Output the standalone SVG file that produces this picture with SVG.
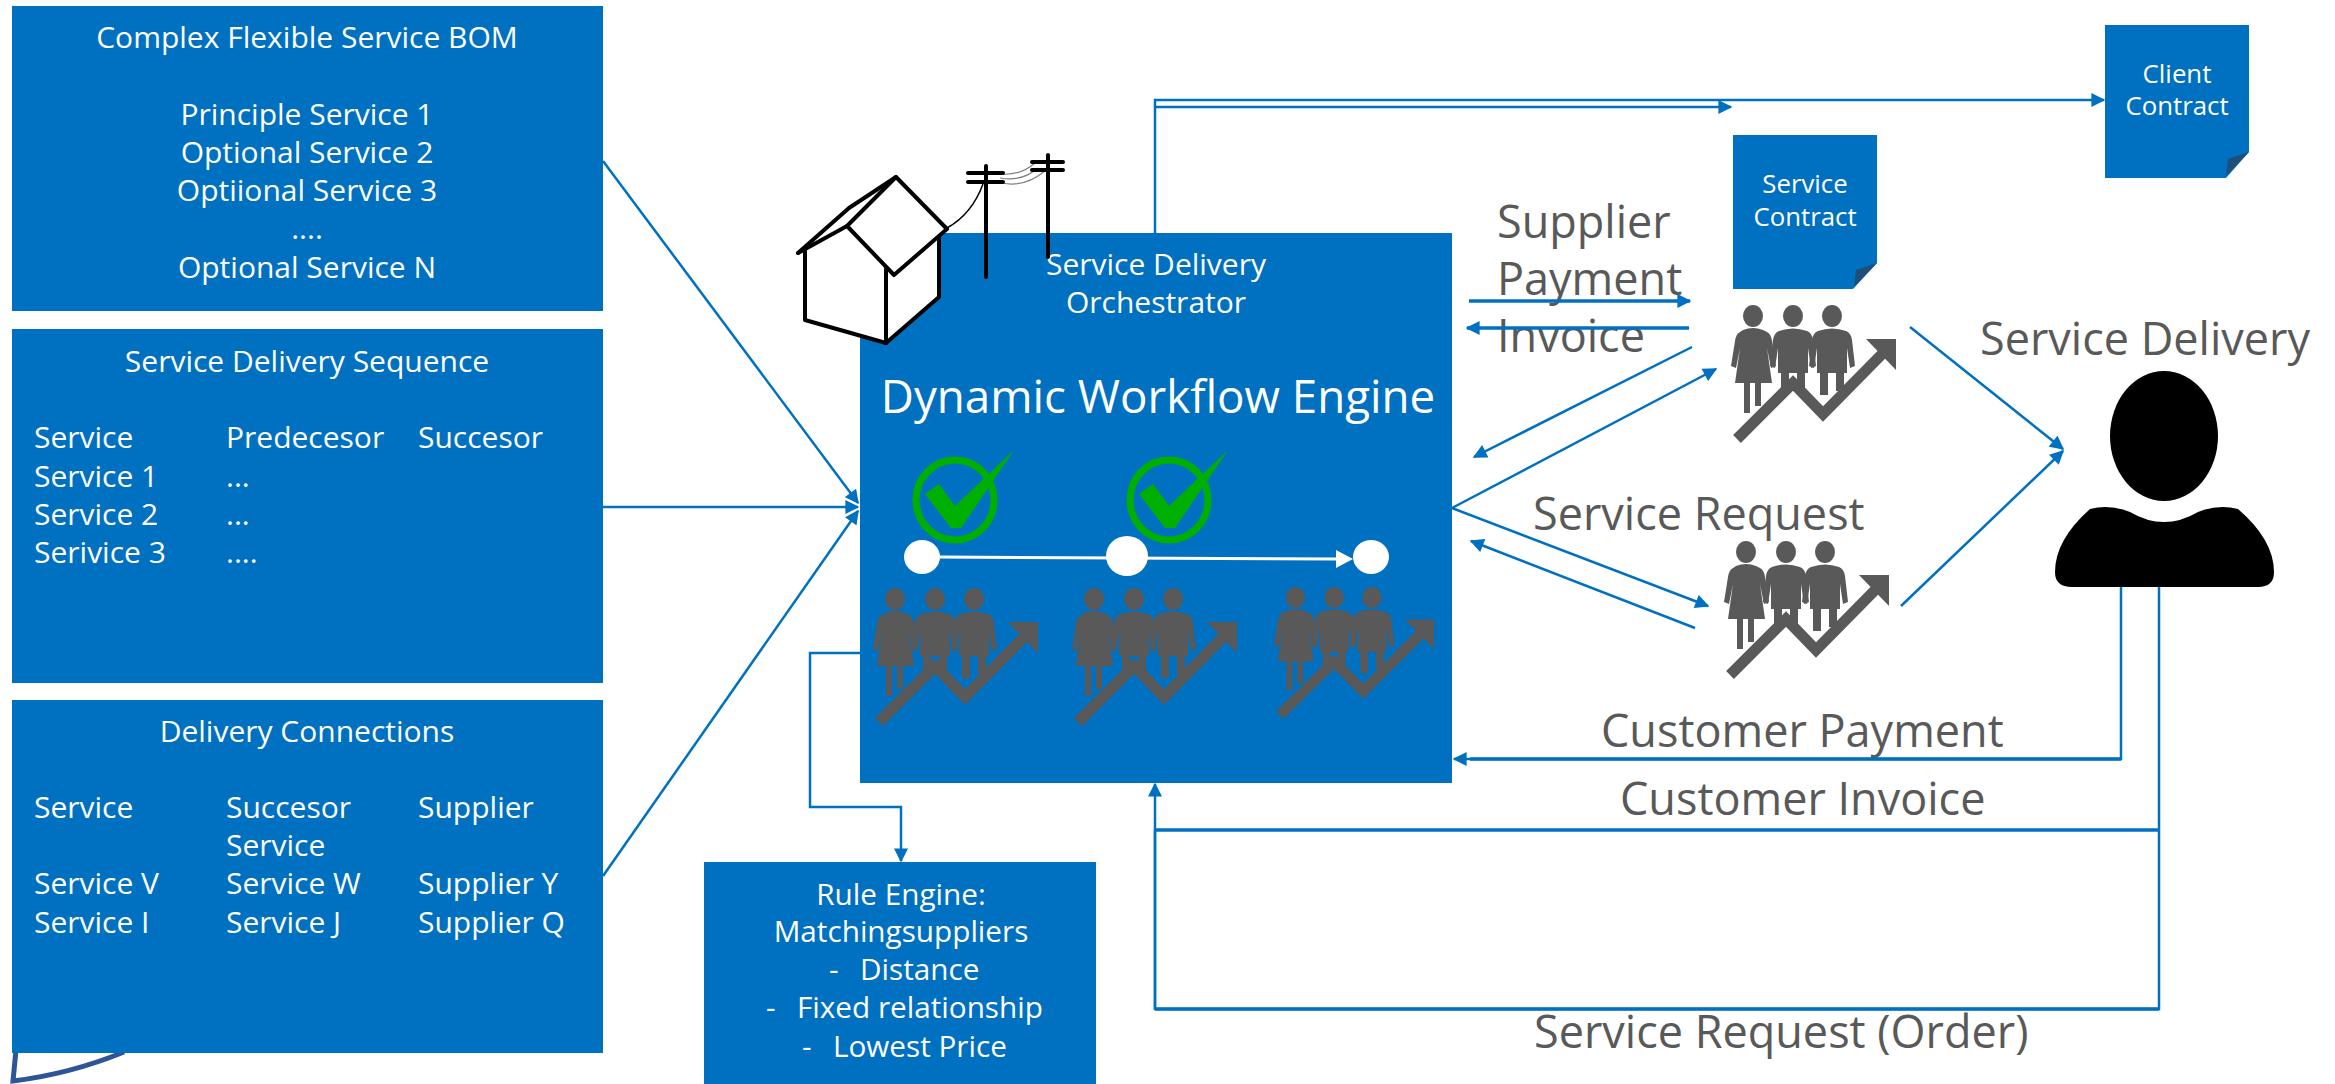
<svg xmlns="http://www.w3.org/2000/svg" xmlns:xlink="http://www.w3.org/1999/xlink" width="2335" height="1084" viewBox="0 0 2335 1084">
  <style>
    .box { fill: #0070C0; }
    .wt { fill: #FFFFFF; font-family: "Open Sans", "Noto Sans", "Liberation Sans", sans-serif; }
    .gt { fill: #595959; font-family: "Open Sans", "Noto Sans", "Liberation Sans", sans-serif; font-size: 45px; }
    .bt { font-size: 30px; }
    .rt { font-size: 29.7px; }
    .mid { text-anchor: middle; }
    .conn { fill: none; stroke: #0070C0; stroke-width: 2.5; }
    .thick { stroke-width: 3.5; }
    .arr { marker-end: url(#ah); }
    .ink { fill: none; stroke: #000000; stroke-width: 4; stroke-linejoin: round; stroke-linecap: round; }
    .ppl { fill: #595959; }
  </style>
  <defs>
    <marker id="ah" viewBox="0 0 10 10" refX="9" refY="5" markerUnits="userSpaceOnUse" markerWidth="15" markerHeight="14" orient="auto">
      <path d="M0,0 L10,5 L0,10 Z" fill="#0070C0"/>
    </marker>
    <!-- three people with a rising zigzag arrow -->
    <g id="team">
      <ellipse cx="21" cy="10" rx="10" ry="11" class="ppl"/>
      <ellipse cx="61" cy="10" rx="10" ry="11" class="ppl"/>
      <ellipse cx="100" cy="10" rx="10" ry="11" class="ppl"/>
      <path class="ppl" d="M11,24 Q21,20 31,24 L35,26 Q39,28 40,35 L44,60 L39,62 L35,42 L40,77 L3,77 L8,42 L4,62 L-1,60 L3,35 Q4,28 8,26 Z"/>
      <rect class="ppl" x="12" y="76" width="6" height="31"/>
      <rect class="ppl" x="23" y="76" width="6" height="24"/>
      <path class="ppl" d="M47,25 Q61,20 75,25 Q80,27 81,34 L84,60 L79,62 L76,42 L76,67 L46,67 L46,42 L43,62 L38,60 L41,34 Q42,27 47,25 Z"/>
      <rect class="ppl" x="49" y="65" width="8" height="22"/>
      <rect class="ppl" x="65" y="65" width="8" height="20"/>
      <path class="ppl" d="M86,25 Q100,20 114,25 Q119,27 120,34 L123,60 L118,62 L115,42 L115,67 L85,67 L85,42 L82,62 L77,60 L80,34 Q81,27 86,25 Z"/>
      <rect class="ppl" x="88" y="65" width="8" height="24"/>
      <rect class="ppl" x="104" y="65" width="8" height="20"/>
      <polyline points="5,133 61,77 91,108 158,40" fill="none" stroke="#595959" stroke-width="11" stroke-linejoin="miter"/>
      <polygon class="ppl" points="134,33 164,33 164,64"/>
    </g>
    <!-- green tick inside a ring -->
    <g id="tick">
      <ellipse cx="0" cy="0" rx="39" ry="40" fill="none" stroke="#00B000" stroke-width="7"/>
      <path d="M-30,-6 L-16,-16 L0,6 L59,-50 L6,28 L-4,28 Z" fill="#00B000"/>
    </g>
  </defs>

  <rect width="2335" height="1084" fill="#FFFFFF"/>

  <!-- logo edge peeking out below the connections table -->
  <path d="M16,1050 L13,1081 Q70,1074 124,1052" fill="none" stroke="#2E5597" stroke-width="5"/>

  <g id="bom">
    <rect class="box" x="12" y="6" width="591" height="305"/>
    <text class="wt bt mid" x="307" y="48">Complex Flexible Service BOM</text>
    <text class="wt bt mid" x="307" y="125">Principle Service 1</text>
    <text class="wt bt mid" x="307" y="163">Optional Service 2</text>
    <text class="wt bt mid" x="307" y="201">Optiional Service 3</text>
    <text class="wt bt mid" x="307" y="239">....</text>
    <text class="wt bt mid" x="307" y="278">Optional Service N</text>
  </g>

  <g id="sequence">
    <rect class="box" x="12" y="329" width="591" height="354"/>
    <text class="wt bt mid" x="307" y="372">Service Delivery Sequence</text>
    <text class="wt bt" x="34" y="448">Service</text>
    <text class="wt bt" x="226" y="448">Predecesor</text>
    <text class="wt bt" x="418" y="448">Succesor</text>
    <text class="wt bt" x="34" y="487">Service 1</text>
    <text class="wt bt" x="226" y="487">...</text>
    <text class="wt bt" x="34" y="525">Service 2</text>
    <text class="wt bt" x="226" y="525">...</text>
    <text class="wt bt" x="34" y="563">Serivice 3</text>
    <text class="wt bt" x="226" y="563">....</text>
  </g>

  <g id="connections">
    <rect class="box" x="12" y="700" width="591" height="353"/>
    <text class="wt bt mid" x="307" y="742">Delivery Connections</text>
    <text class="wt bt" x="34" y="818">Service</text>
    <text class="wt bt" x="226" y="818">Succesor</text>
    <text class="wt bt" x="418" y="818">Supplier</text>
    <text class="wt bt" x="226" y="856">Service</text>
    <text class="wt bt" x="34" y="894">Service V</text>
    <text class="wt bt" x="226" y="894">Service W</text>
    <text class="wt bt" x="418" y="894">Supplier Y</text>
    <text class="wt bt" x="34" y="933">Service I</text>
    <text class="wt bt" x="226" y="933">Service J</text>
    <text class="wt bt" x="418" y="933">Supplier Q</text>
  </g>

  <g id="orchestrator">
    <rect class="box" x="860" y="233" width="592" height="550"/>
    <text class="wt mid" x="1156" y="275" font-size="30">Service Delivery</text>
    <text class="wt mid" x="1156" y="313" font-size="30">Orchestrator</text>
    <text class="wt mid" x="1158" y="413" font-size="45.7">Dynamic Workflow Engine</text>
    <use xlink:href="#tick" transform="translate(955,500)"/>
    <use xlink:href="#tick" transform="translate(1169,500)"/>
    <line x1="940" y1="557" x2="1340" y2="559" stroke="#FFFFFF" stroke-width="3"/>
    <polygon points="1336,550 1353,559 1336,568" fill="#FFFFFF"/>
    <ellipse cx="922" cy="557" rx="18" ry="17" fill="#FFFFFF"/>
    <ellipse cx="1127" cy="556" rx="21" ry="20" fill="#FFFFFF"/>
    <ellipse cx="1371" cy="557" rx="18" ry="17" fill="#FFFFFF"/>
    <use xlink:href="#team" transform="translate(874,589)"/>
    <use xlink:href="#team" transform="translate(1073,589)"/>
    <use xlink:href="#team" transform="translate(1275,588) scale(0.97,0.955)"/>
  </g>

  <!-- house with power line, sitting on the orchestrator corner -->
  <g id="house">
    <polygon points="798,253 849,208 896,177 947,229 939,237 939,297 886,343 805,320 805,250" fill="#FFFFFF"/>
    <polyline class="ink" points="798,253 849,208 896,177"/>
    <line class="ink" x1="798" y1="253" x2="847" y2="226"/>
    <polygon class="ink" points="847,226 896,177 947,229 894,275"/>
    <polyline class="ink" points="805,250 805,320 886,343 939,297 939,237"/>
    <line class="ink" x1="886" y1="268" x2="886" y2="343"/>
    <path d="M983,184 Q972,214 947,228" fill="none" stroke="#000000" stroke-width="1.5"/>
    <path d="M1000,174 Q1020,176 1035,163 M1000,178 Q1022,182 1038,168 M1002,183 Q1024,188 1045,171" fill="none" stroke="#808080" stroke-width="1.2"/>
    <line class="ink" x1="986" y1="166" x2="986" y2="277"/>
    <line class="ink" x1="968" y1="173" x2="1003" y2="173"/>
    <line class="ink" x1="968" y1="182" x2="1003" y2="182"/>
    <line class="ink" x1="1048" y1="155" x2="1048" y2="257"/>
    <line class="ink" x1="1032" y1="162" x2="1063" y2="162"/>
    <line class="ink" x1="1032" y1="170" x2="1063" y2="170"/>
  </g>

  <g id="rule-engine">
    <rect class="box" x="704" y="862" width="392" height="222"/>
    <text class="wt rt mid" x="901" y="905">Rule Engine:</text>
    <text class="wt rt mid" x="901" y="942">Matchingsuppliers</text>
    <text class="wt rt" x="829" y="980">-</text>
    <text class="wt rt" x="860" y="980">Distance</text>
    <text class="wt rt" x="766" y="1018">-</text>
    <text class="wt rt" x="797" y="1018">Fixed relationship</text>
    <text class="wt rt" x="802" y="1057">-</text>
    <text class="wt rt" x="833" y="1057">Lowest Price</text>
  </g>

  <g id="service-contract">
    <polygon class="box" points="1733,135 1877,135 1877,263 1853,289 1733,289"/>
    <polygon points="1856,270 1877,263 1854,287" fill="#1F4E79"/>
    <text class="wt mid" x="1805" y="193" font-size="25.8">Service</text>
    <text class="wt mid" x="1805" y="226" font-size="25.8">Contract</text>
  </g>

  <g id="client-contract">
    <polygon class="box" points="2105,25 2249,25 2249,152 2226,178 2105,178"/>
    <polygon points="2228,159 2249,152 2226,176" fill="#1F4E79"/>
    <text class="wt mid" x="2177" y="83" font-size="25.8">Client</text>
    <text class="wt mid" x="2177" y="115" font-size="25.8">Contract</text>
  </g>

  <g id="supplier-a">
    <use xlink:href="#team" transform="translate(1732,306)"/>
  </g>
  <g id="supplier-b">
    <use xlink:href="#team" transform="translate(1725,542)"/>
  </g>

  <g id="customer">
    <ellipse cx="2164" cy="436" rx="54" ry="65" fill="#000000"/>
    <path d="M2090,509 Q2110,504 2130,512 Q2164,532 2198,512 Q2218,504 2238,509 Q2274,540 2274,572 Q2274,587 2258,587 L2072,587 Q2055,587 2055,572 Q2055,540 2090,509 Z" fill="#000000"/>
  </g>

  <g id="labels">
    <text class="gt" x="1497" y="238">Supplier</text>
    <text class="gt" x="1497" y="295">Payment</text>
    <text class="gt" x="1497" y="352">Invoice</text>
    <text class="gt" x="1980" y="355">Service Delivery</text>
    <text class="gt" x="1533" y="530">Service Request</text>
    <text class="gt" x="1601" y="747">Customer Payment</text>
    <text class="gt" x="1620" y="815">Customer Invoice</text>
    <text class="gt" x="1534" y="1048">Service Request (Order)</text>
  </g>

  <g id="connectors">
    <line class="conn arr" x1="603" y1="161" x2="858" y2="503"/>
    <line class="conn arr" x1="603" y1="507" x2="858" y2="507"/>
    <line class="conn arr" x1="603" y1="876" x2="858" y2="511"/>
    <polyline class="conn arr" points="860,653 810,653 810,807 901,807 901,861"/>
    <polyline class="conn arr" points="1155,233 1155,100 2104,100"/>
    <line class="conn arr" x1="1155" y1="107" x2="1731" y2="107"/>
    <line class="conn thick arr" x1="1469" y1="301" x2="1690" y2="301"/>
    <line class="conn thick arr" x1="1689" y1="328" x2="1467" y2="328"/>
    <line class="conn arr" x1="1692" y1="347" x2="1474" y2="457"/>
    <line class="conn arr" x1="1452" y1="508" x2="1716" y2="369"/>
    <line class="conn arr" x1="1452" y1="508" x2="1708" y2="606"/>
    <line class="conn arr" x1="1695" y1="628" x2="1471" y2="541"/>
    <line class="conn arr" x1="1910" y1="327" x2="2063" y2="449"/>
    <line class="conn arr" x1="1901" y1="606" x2="2063" y2="451"/>
    <polyline class="conn arr" points="2121,587 2121,759 1454,759"/>
    <line class="conn thick" x1="2121" y1="759" x2="1470" y2="759"/>
    <polyline class="conn" points="2159,587 2159,1009 1155,1009 1155,830"/>
    <line class="conn thick" x1="2159" y1="830" x2="1155" y2="830"/>
    <line class="conn thick" x1="2159" y1="1009" x2="1155" y2="1009"/>
    <line class="conn arr" x1="1155" y1="1009" x2="1155" y2="784"/>
  </g>
</svg>
